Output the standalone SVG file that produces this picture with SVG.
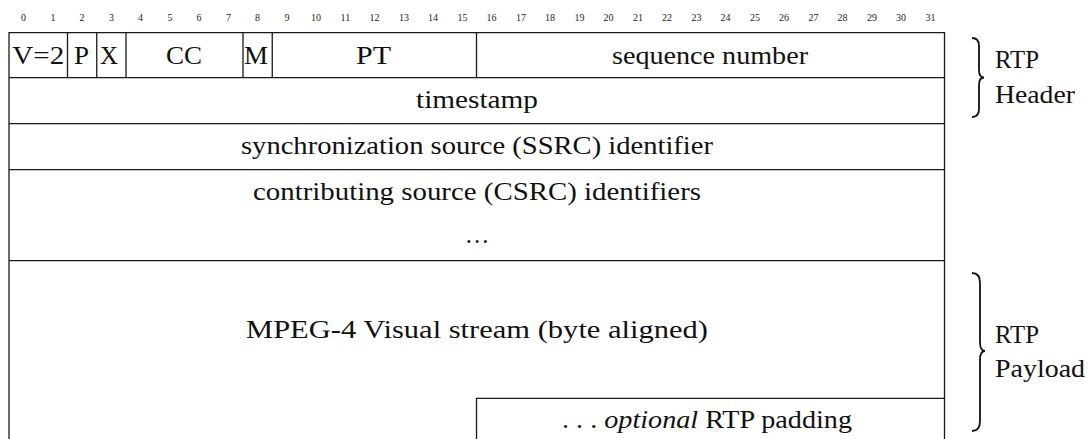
<svg xmlns="http://www.w3.org/2000/svg" width="1091" height="439" viewBox="0 0 1091 439">
<style>
.bit{font-family:"Liberation Serif",serif;font-size:10px;fill:#222;text-anchor:middle}
.t{font-family:"Liberation Serif",serif;font-size:25px;fill:#111;text-anchor:middle}
.l{font-family:"Liberation Serif",serif;font-size:25px;fill:#111}
.ln{stroke:#1a1a1a;stroke-width:1.3;fill:none}
.br{stroke:#111;stroke-width:1.8;fill:none}
</style>
<rect width="1091" height="439" fill="#fff"/>
<g id="bits">
<text class="bit" x="23.6" y="21">0</text><text class="bit" x="52.9" y="21">1</text><text class="bit" x="82.1" y="21">2</text><text class="bit" x="111.4" y="21">3</text>
<text class="bit" x="140.6" y="21">4</text><text class="bit" x="169.9" y="21">5</text><text class="bit" x="199.1" y="21">6</text><text class="bit" x="228.4" y="21">7</text>
<text class="bit" x="257.6" y="21">8</text><text class="bit" x="286.9" y="21">9</text><text class="bit" x="316.1" y="21">10</text><text class="bit" x="345.4" y="21">11</text>
<text class="bit" x="374.6" y="21">12</text><text class="bit" x="403.9" y="21">13</text><text class="bit" x="433.1" y="21">14</text><text class="bit" x="462.4" y="21">15</text>
<text class="bit" x="491.6" y="21">16</text><text class="bit" x="520.9" y="21">17</text><text class="bit" x="550.1" y="21">18</text><text class="bit" x="579.4" y="21">19</text>
<text class="bit" x="608.6" y="21">20</text><text class="bit" x="637.9" y="21">21</text><text class="bit" x="667.1" y="21">22</text><text class="bit" x="696.4" y="21">23</text>
<text class="bit" x="725.6" y="21">24</text><text class="bit" x="754.9" y="21">25</text><text class="bit" x="784.1" y="21">26</text><text class="bit" x="813.4" y="21">27</text>
<text class="bit" x="842.6" y="21">28</text><text class="bit" x="871.9" y="21">29</text><text class="bit" x="901.1" y="21">30</text><text class="bit" x="930.4" y="21">31</text>
</g>
<g id="frame">
<path class="ln" d="M9,439 V32.7 H944.5 V439"/>
<path class="ln" d="M9,77.7 H944.5 M9,123.7 H944.5 M9,169.7 H944.5 M9,260.7 H944.5"/>
<path class="ln" d="M67.5,32.7 V77.7 M96.75,32.7 V77.7 M126,32.7 V77.7 M243,32.7 V77.7 M272.25,32.7 V77.7 M476.5,32.7 V77.7"/>
</g>
<g id="row1">
<text class="t" x="38.2" y="64" textLength="52" lengthAdjust="spacingAndGlyphs">V=2</text>
<text class="t" x="81.5" y="64" textLength="15" lengthAdjust="spacingAndGlyphs">P</text>
<text class="t" x="109" y="64" textLength="18" lengthAdjust="spacingAndGlyphs">X</text>
<text class="t" x="184" y="64" textLength="36" lengthAdjust="spacingAndGlyphs">CC</text>
<text class="t" x="256" y="64" textLength="24" lengthAdjust="spacingAndGlyphs">M</text>
<text class="t" x="373.5" y="64" textLength="35" lengthAdjust="spacingAndGlyphs">PT</text>
<text class="t" x="710" y="64" textLength="196" lengthAdjust="spacingAndGlyphs">sequence number</text>
</g>
<g id="timestamp"><text class="t" x="477" y="107.5" textLength="122" lengthAdjust="spacingAndGlyphs">timestamp</text></g>
<g id="ssrc"><text class="t" x="477" y="153.5" textLength="472" lengthAdjust="spacingAndGlyphs">synchronization source (SSRC) identifier</text></g>
<g id="csrc"><text class="t" x="477" y="199.5" textLength="448" lengthAdjust="spacingAndGlyphs">contributing source (CSRC) identifiers</text><text class="t" x="478" y="243" letter-spacing="2">...</text></g>
<g id="payload"><text class="t" x="477" y="338" textLength="462" lengthAdjust="spacingAndGlyphs">MPEG-4 Visual stream (byte aligned)</text></g>
<g id="padding"><path class="ln" d="M476.5,439 V398.3 H944.5"/><text class="t" x="707" y="428" textLength="290" lengthAdjust="spacingAndGlyphs">. . . <tspan font-style="italic">optional</tspan> RTP padding</text></g>
<g id="header-brace">
<path class="br" d="M972,38 Q979,38 979,46 L979,70 Q979,77.5 984,77.5 Q979,77.5 979,85 L979,109 Q979,117 972,117"/>
<text class="l" x="995" y="68" textLength="44" lengthAdjust="spacingAndGlyphs">RTP</text><text class="l" x="995" y="103" textLength="80" lengthAdjust="spacingAndGlyphs">Header</text>
</g>
<g id="payload-brace">
<path class="br" d="M972,273 Q980,273 980,283 L980,342 Q980,351 985,351 Q980,351 980,360 L980,421 Q980,431 972,431"/>
<text class="l" x="995" y="343" textLength="44" lengthAdjust="spacingAndGlyphs">RTP</text><text class="l" x="995" y="377" textLength="90" lengthAdjust="spacingAndGlyphs">Payload</text>
</g>
</svg>
